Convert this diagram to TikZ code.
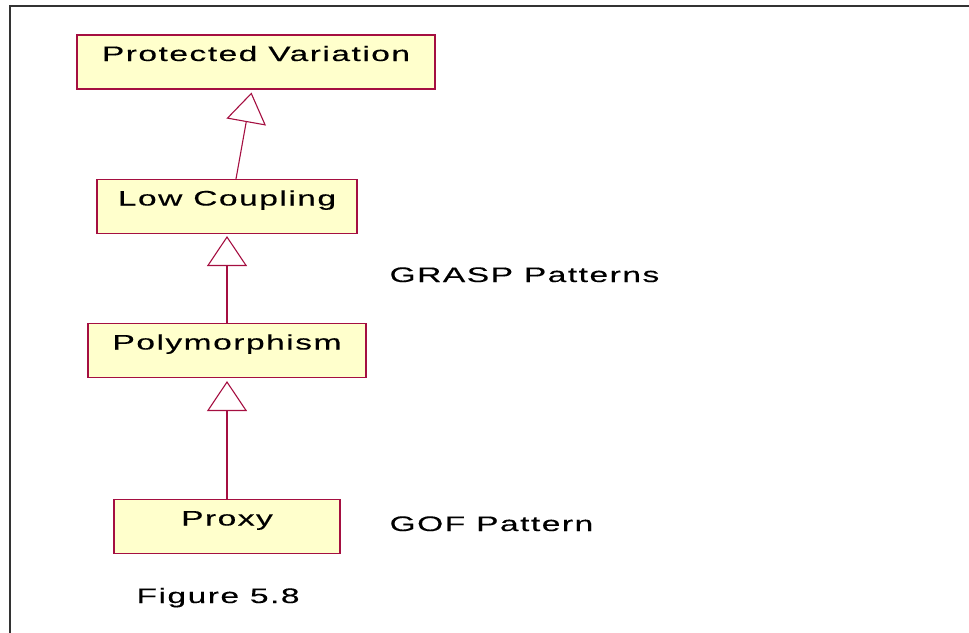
\documentclass[tikz,border=0pt]{standalone}
\usepackage{fontspec}
\usepackage{xcolor}
\usepackage{tikz}
\usetikzlibrary{arrows.meta}
\newfontfamily\umlfont{Liberation Sans}[FakeStretch=1.6, LetterSpace=7, FakeBold=0.25]
\definecolor{umlred}{RGB}{165,15,65}
\definecolor{umlfill}{RGB}{255,255,204}

\begin{document}
\begin{tikzpicture}[x=1pt, y=-1pt, line width=1.1pt,
		font=\umlfont\fontsize{21}{24}\selectfont,
		pattern/.style={draw=umlred, fill=umlfill, inner sep=0pt,
			minimum height=54pt, text height=26pt, text depth=28pt},
		realizes/.style={umlred, -{Triangle[open, length=30pt, width=40pt]}}]
	\useasboundingbox (0,0) rectangle (969,632);

	% Frame
	\draw [line width=1.8pt, color=black!80] (10,640) -- (10,6) -- (975,6);

	% Patterns
	\node (pv) at (256,62) [pattern, minimum width=358pt] {Protected Variation};
	\node (lc) at (227,206.5) [pattern, minimum width=260pt] {Low Coupling};
	\node (poly) at (227,350.5) [pattern, minimum width=278pt] {Polymorphism};
	\node (proxy) at (227,526.5) [pattern, minimum width=226pt] {Proxy};

	% Generalisations
	\draw [realizes, shorten >=3pt] ([xshift=9pt]lc.north) -- ([xshift=-4pt]pv.south);
	\draw [realizes, shorten >=2pt] (poly.north) -- (lc.south);
	\draw [realizes, shorten >=3pt] (proxy.north) -- (poly.south);

	% Labels
	\node (grasp) at (389,282) [anchor=base west, inner sep=0pt] {GRASP Patterns};
	\node (gof) at (389,531) [anchor=base west, inner sep=0pt] {GOF Pattern};
	\node (fig) at (136,603) [anchor=base west, inner sep=0pt] {Figure 5.8};
\end{tikzpicture}
\end{document}
